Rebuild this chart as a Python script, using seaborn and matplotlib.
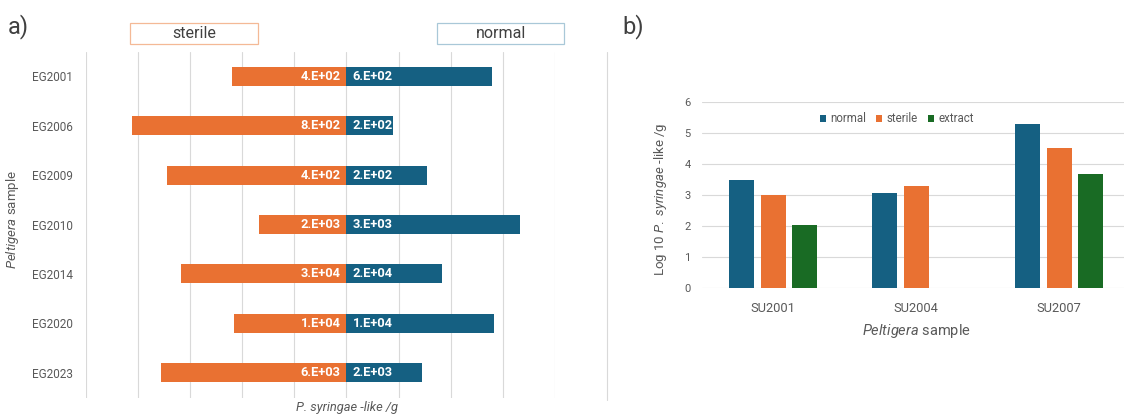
import numpy as np
import pandas as pd
import matplotlib
matplotlib.use("Agg")
import matplotlib.pyplot as plt
from matplotlib.patches import Rectangle
from matplotlib.lines import Line2D
import seaborn as sns

# ---- panel a: counts per sample (sterile vs normal) ----
samples_a = ["EG2001", "EG2006", "EG2009", "EG2010", "EG2014", "EG2020", "EG2023"]
sterile_counts = [440, 800, 420, 1600, 29000, 10000, 5600]
normal_counts = [560, 172, 189, 3160, 16700, 13100, 2290]

# ---- panel b: log10 counts per sample and treatment ----
samples_b = ["SU2001", "SU2004", "SU2007"]
treatments = ["normal", "sterile", "extract"]
log_normal = [3.48, 3.07, 5.28]
log_sterile = [3.01, 3.29, 4.50]
log_extract = [2.05, np.nan, 3.68]

BLUE = "#156082"
ORANGE = "#E97132"
GREEN = "#196B24"
GRID = "#D9D9D9"
TXT = "#595959"

sns.set_theme(style="white")
plt.rcParams["font.family"] = ["Roboto", "DejaVu Sans"]
plt.rcParams["mathtext.fontset"] = "custom"
plt.rcParams["mathtext.rm"] = "Roboto"
plt.rcParams["mathtext.it"] = "Roboto:italic"

W, H = 1124, 416
fig = plt.figure(figsize=(W / 100, H / 100), dpi=100)


def fig_rect(x0, x1, y_top, y_bot):
    return [x0 / W, 1 - y_bot / H, (x1 - x0) / W, (y_bot - y_top) / H]


def sci(v):
    m, e = f"{v:.0e}".split("e")
    return f"{m}.E{e}"


# ================= panel a =================
axa = fig.add_axes(fig_rect(85.7, 555.0, 51.5, 397.5))
tot = np.array(sterile_counts, float) + np.array(normal_counts, float)
sterile_share = np.array(sterile_counts) / tot
normal_share = np.array(normal_counts) / tot

sns.barplot(x=-sterile_share, y=samples_a, orient="h", color=ORANGE,
            saturation=1, width=0.385, ax=axa, linewidth=0)
sns.barplot(x=normal_share, y=samples_a, orient="h", color=BLUE,
            saturation=1, width=0.385, ax=axa, linewidth=0)

axa.set_xlim(-1.0, 0.8)
axa.set_ylim(6.5, -0.5)
axa.set_xticks(np.arange(-1.0, 0.81, 0.2))
axa.set_xticklabels([])
axa.grid(axis="x", color=GRID, lw=0.8)
axa.grid(axis="y", visible=False)
axa.set_axisbelow(True)
for s in axa.spines.values():
    s.set_visible(False)
axa.tick_params(axis="both", length=0)
axa.tick_params(axis="y", labelsize=8.5, labelcolor=TXT, pad=9)

for i, (s, n) in enumerate(zip(sterile_counts, normal_counts)):
    axa.annotate(sci(s), xy=(0, i), xytext=(-4, 0), textcoords="offset points",
                 ha="right", va="center", color="white", fontsize=9.3,
                 fontweight="bold")
    axa.annotate(sci(n), xy=(0, i), xytext=(4.5, 0), textcoords="offset points",
                 ha="left", va="center", color="white", fontsize=9.3,
                 fontweight="bold")

axa.set_ylabel(r"$\mathit{Peltigera}$ sample", fontsize=9.5, color=TXT)
axa.yaxis.set_label_coords(-0.157, 0.513)
axa.yaxis.label.set_va("center")
axa.set_xlabel("P. syringae -like /g", fontsize=9.3, color=TXT, style="italic")
axa.xaxis.set_label_coords(0.557, -0.029)
axa.xaxis.label.set_va("center")

# header boxes for panel a
for (x0, x1, label, ec) in [(130.3, 257.7, "sterile", "#F4B996"),
                            (437.0, 564.3, "normal", "#A9C8D8")]:
    r = fig_rect(x0, x1, 23.3, 44.0)
    fig.add_artist(Rectangle((r[0], r[1]), r[2], r[3], transform=fig.transFigure,
                             facecolor="white", edgecolor=ec, lw=0.9))
    fig.text((x0 + x1) / 2 / W, 1 - 33.7 / H, label, ha="center", va="center",
             fontsize=11.5, color="#404040")

fig.text(8 / W, 1 - 27 / H, "a)", ha="left", va="center", fontsize=17, color="#404040")
fig.text(622 / W, 1 - 27 / H, "b)", ha="left", va="center", fontsize=17, color="#404040")

# ================= panel b =================
fig.add_artist(Line2D([607 / W, 607 / W], [1 - 52 / H, 1 - 400 / H],
                      transform=fig.transFigure, color=GRID, lw=0.8))

axb = fig.add_axes(fig_rect(701.7, 1130.7, 101.7, 288.3))
df_b = pd.DataFrame({
    "sample": samples_b * 3,
    "treatment": ["normal"] * 3 + ["sterile"] * 3 + ["extract"] * 3,
    "value": log_normal + log_sterile + log_extract,
})
sns.barplot(data=df_b, x="sample", y="value", hue="treatment", hue_order=treatments,
            palette={"normal": BLUE, "sterile": ORANGE, "extract": GREEN},
            saturation=1, width=0.66, gap=0.2, errorbar=None, ax=axb, linewidth=0)

axb.set_xlim(-0.5, 2.5)
axb.set_ylim(0, 6)
axb.set_yticks(range(0, 7))
axb.grid(axis="y", color=GRID, lw=0.8)
axb.grid(axis="x", visible=False)
axb.set_axisbelow(True)
for s in axb.spines.values():
    s.set_visible(False)
axb.tick_params(axis="both", length=0)
axb.tick_params(axis="y", labelsize=8, labelcolor=TXT, pad=8)
axb.tick_params(axis="x", labelsize=9.3, labelcolor=TXT, pad=10)

axb.set_xlabel(r"$\mathit{Peltigera}$ sample", fontsize=10.5, color=TXT)
axb.xaxis.set_label_coords(0.5, -0.229)
axb.xaxis.label.set_va("center")
axb.set_ylabel(r"Log 10 $\mathit{P.}$ $\mathit{syringae}$ -like /g", fontsize=9.5, color=TXT)
axb.yaxis.set_label_coords(-0.0956, 0.478)
axb.yaxis.label.set_va("center")

handles, labels = axb.get_legend_handles_labels()
axb.legend(handles, labels, loc="center", bbox_to_anchor=(897 / W, 1 - 119 / H),
           bbox_transform=fig.transFigure, ncol=3, frameon=False, fontsize=8.3,
           handlelength=0.5, handleheight=0.5, handletextpad=0.4,
           columnspacing=0.9, labelcolor=TXT)

fig.savefig("out.png", dpi=100)
